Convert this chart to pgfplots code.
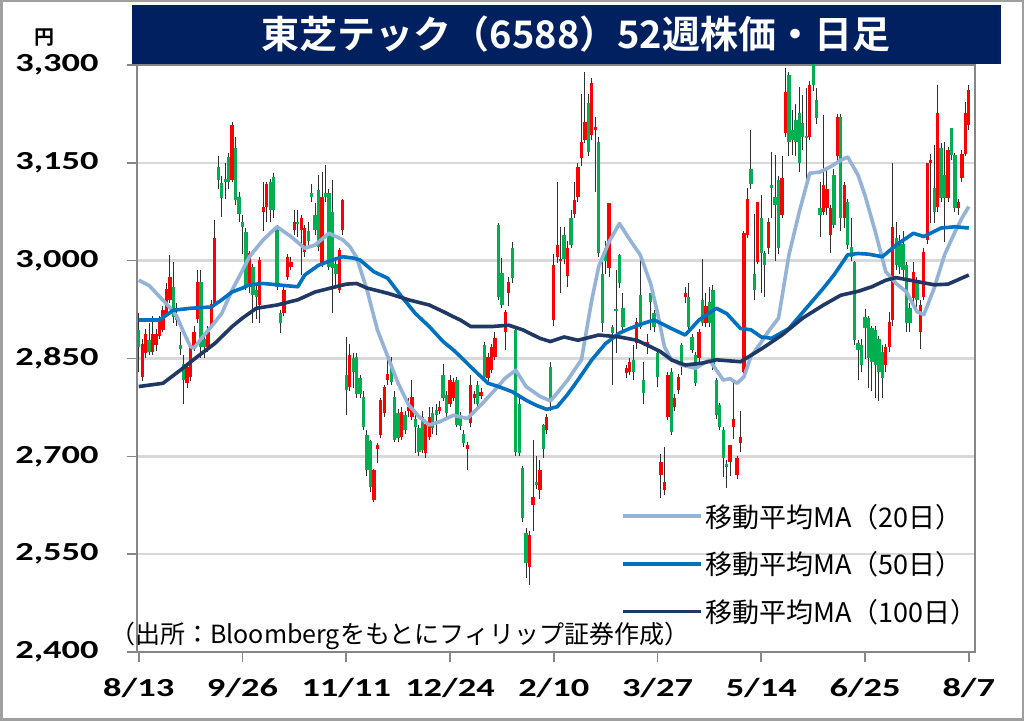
\documentclass[border=0pt]{standalone}
\usepackage{fontspec}
\usepackage{graphicx}
\usepackage{pgfplots}
\pgfplotsset{compat=1.18}
\usepackage{pgfplotstable}
\setmainfont{Carlito}
\newfontfamily\jp{Noto Sans CJK JP}[BoldFont={Noto Sans CJK JP Bold}]
\definecolor{navy}{HTML}{002060}
\definecolor{upred}{HTML}{FF0000}
\definecolor{dngreen}{HTML}{00B050}
\definecolor{maA}{HTML}{95B3D7}
\definecolor{maB}{HTML}{0070C0}
\definecolor{maC}{HTML}{1F3864}
\definecolor{gridc}{HTML}{D9D9D9}
\definecolor{axisc}{HTML}{868686}
\definecolor{wickc}{HTML}{303030}
\newcommand\tl[1]{\scalebox{1.4}[1]{#1}}
\pgfplotstableread{
i o h l c
0 2893 2920 2830 2868
1 2822 2880 2815 2873
2 2858 2895 2850 2888
3 2878 2905 2855 2860
4 2860 2915 2855 2888
5 2870 2895 2862 2888
6 2885 2915 2880 2910
7 2893 2930 2890 2924
8 2919 2965 2915 2957
9 2940 3008 2935 2975
10 2960 2998 2905 2914
11 2917 2935 2900 2909
12 2870 2890 2855 2865
13 2842 2855 2781 2817
14 2812 2845 2805 2837
15 2822 2872 2815 2868
16 2868 2900 2862 2891
17 2911 2985 2905 2968
18 2968 2985 2850 2868
19 2880 2890 2850 2868
20 2868 2900 2860 2890
21 2900 2940 2895 2934
22 2934 3062 2930 3034
23 3144 3160 3110 3124
24 3119 3130 3067 3096
25 3125 3150 3095 3121
26 3159 3165 3110 3121
27 3124 3212 3120 3208
28 3172 3190 3085 3093
29 3098 3105 3060 3072
30 3060 3070 3010 3052
31 3044 3050 2955 2963
32 2960 3015 2950 3011
33 2990 2995 2904 2947
34 2955 2962 2910 2945
35 2932 3005 2904 3001
36 3075 3121 3045 3083
37 3083 3121 3060 3118
38 3121 3125 3060 3078
39 3129 3135 3065 3078
40 3050 3055 2955 2960
41 2919 2925 2889 2904
42 2919 2960 2915 2955
43 2975 3010 2970 3006
44 2990 3005 2985 2998
45 3047 3078 3040 3060
46 3060 3078 3037 3057
47 3047 3070 2978 3065
48 3014 3055 3005 3050
49 3045 3060 3020 3030
50 3103 3118 3090 3098
51 3070 3088 3040 3047
52 3108 3131 3015 3021
53 2996 3136 2990 3098
54 3103 3147 3090 3098
55 3103 3110 2985 2991
56 3075 3124 2919 2988
57 2995 3005 2960 2980
58 2955 3020 2950 3016
59 3047 3095 3040 3093
60 2825 2883 2763 2802
61 2807 2872 2800 2855
62 2850 2858 2805 2830
63 2852 2858 2790 2796
64 2820 2825 2790 2796
65 2791 2800 2740 2745
66 2733 2740 2670 2679
67 2723 2725 2645 2653
68 2633 2680 2630 2679
69 2712 2720 2690 2717
70 2733 2790 2728 2786
71 2766 2810 2760 2807
72 2817 2852 2810 2827
73 2840 2852 2810 2814
74 2791 2800 2722 2725
75 2766 2772 2722 2728
76 2730 2775 2725 2768
77 2763 2770 2735 2740
78 2770 2790 2760 2776
79 2761 2817 2755 2791
80 2758 2765 2705 2745
81 2743 2748 2700 2707
82 2760 2770 2705 2710
83 2705 2755 2697 2750
84 2730 2776 2725 2761
85 2766 2775 2735 2743
86 2771 2781 2733 2763
87 2770 2785 2765 2776
88 2825 2842 2785 2789
89 2794 2800 2760 2766
90 2781 2825 2775 2817
91 2790 2820 2785 2814
92 2817 2822 2745 2748
93 2761 2768 2740 2746
94 2735 2740 2715 2720
95 2712 2722 2679 2717
96 2751 2825 2745 2809
97 2790 2800 2780 2796
98 2809 2815 2775 2781
99 2793 2805 2788 2798
100 2871 2875 2818 2822
101 2820 2858 2815 2853
102 2832 2872 2828 2868
103 2853 2891 2848 2881
104 3055 3058 2940 2945
105 2981 3004 2928 2932
106 2891 2925 2863 2922
107 2950 2975 2930 2968
108 3019 3029 2965 2973
109 2894 2897 2700 2707
110 2781 2790 2700 2705
111 2682 2685 2600 2605
112 2582 2590 2513 2536
113 2531 2585 2503 2580
114 2625 2725 2585 2638
115 2661 2700 2650 2656
116 2648 2694 2635 2679
117 2748 2750 2697 2712
118 2740 2765 2735 2760
119 2837 2845 2770 2784
120 2909 3010 2900 2993
121 3006 3121 2996 3024
122 3000 3052 2950 3003
123 3039 3052 2995 3003
124 2976 3030 2960 3019
125 3065 3078 3020 3024
126 3072 3121 3065 3093
127 3098 3150 3090 3144
128 3157 3256 3145 3182
129 3185 3290 3180 3213
130 3241 3256 3160 3167
131 3193 3280 3185 3272
132 3200 3220 3105 3205
133 3182 3190 3005 3011
134 2980 3003 2891 2904
135 3020 3030 2980 3000
136 2988 3088 2975 3088
137 2899 2901 2810 2889
138 2925 2986 2858 2924
139 3009 3010 2958 2965
140 2927 2950 2890 2899
141 2827 2840 2820 2835
142 2830 2850 2825 2845
143 2848 2870 2817 2830
144 2873 2912 2865 2906
145 2947 3003 2895 2899
146 2817 2845 2781 2797
147 2873 2888 2857 2876
148 2950 2950 2893 2937
149 2919 2925 2890 2899
150 2858 2863 2807 2822
151 2671 2704 2636 2692
152 2648 2715 2640 2661
153 2761 2830 2755 2824
154 2830 2835 2732 2738
155 2776 2795 2770 2789
156 2801 2827 2795 2822
157 2871 2873 2825 2845
158 2945 2960 2935 2950
159 2945 2965 2895 2899
160 2883 2888 2858 2863
161 2855 2860 2808 2812
162 2850 2895 2845 2891
163 2940 3003 2900 2904
164 2904 2950 2898 2930
165 2937 2960 2898 2904
166 2955 2963 2832 2838
167 2817 2820 2758 2763
168 2779 2782 2740 2745
169 2740 2745 2668 2697
170 2689 2695 2651 2684
171 2692 2717 2670 2717
172 2745 2814 2727 2758
173 2671 2700 2666 2697
174 2720 2769 2707 2730
175 2830 3045 2825 3042
176 3039 3111 3035 3095
177 3141 3200 3110 3118
178 2980 3072 2940 2955
179 2998 3090 2995 3090
180 3065 3101 2950 3011
181 3011 3015 2945 2993
182 3019 3065 3010 3060
183 3116 3167 3065 3111
184 3098 3162 3000 3085
185 3124 3130 3010 3019
186 3070 3160 3065 3126
187 3195 3295 3190 3259
188 3285 3290 3160 3182
189 3200 3231 3162 3185
190 3215 3240 3160 3182
191 3226 3267 3136 3149
192 3211 3254 3170 3190
193 3190 3264 3116 3188
194 3190 3275 3185 3269
195 3310 3320 3260 3269
196 3246 3264 3210 3218
197 3080 3121 3037 3070
198 3075 3223 3070 3116
199 3080 3140 3070 3110
200 3039 3085 3011 3080
201 3131 3140 3050 3054
202 3160 3225 3150 3221
203 3221 3225 3045 3065
204 3065 3120 3050 3116
205 3090 3095 3018 3024
206 3021 3065 3000 3006
207 2998 3000 2870 2878
208 2873 2878 2817 2863
209 2870 2880 2830 2840
210 2914 2926 2850 2896
211 2912 2915 2805 2850
212 2896 2900 2800 2845
213 2894 2900 2790 2840
214 2880 2885 2785 2830
215 2860 2870 2790 2820
216 2840 2872 2830 2868
217 2868 2922 2860 2906
218 2909 3149 2900 3052
219 3034 3060 2985 2993
220 3030 3040 2980 2990
221 3026 3045 2975 2985
222 2993 2998 2890 2904
223 2927 2935 2890 2904
224 2942 2998 2935 2983
225 2968 2975 2920 2940
226 2891 2940 2865 2932
227 2945 3020 2940 3014
228 3032 3150 3025 3149
229 3149 3164 3057 3154
230 3111 3177 3057 3075
231 3083 3269 3075 3226
232 3172 3180 3090 3096
233 3131 3182 3029 3096
234 3096 3175 3090 3170
235 3203 3203 3155 3162
236 3162 3165 3075 3080
237 3080 3095 3070 3090
238 3126 3170 3120 3164
239 3164 3244 3160 3226
240 3208 3269 3200 3262
}\candles
\begin{document}
\begin{tikzpicture}
\path[use as bounding box] (0bp,0bp) rectangle (1024bp,721bp);
\fill[white] (0bp,0bp) rectangle (1024bp,721bp);
\draw[color=gray!75, line width=2bp] (1.5bp,1.5bp) rectangle (1022.5bp,719.5bp);
\begin{axis}[
  at={(137bp,69bp)}, anchor=south west, scale only axis,
  width=838bp, height=587bp,
  xmin=-0.5, xmax=241.8, ymin=2400, ymax=3300,
  axis line style={axisc, line width=2bp},
  tick style={axisc, line width=1.6bp},
  major tick length=10bp, tick align=outside,
  xtick pos=lower, ytick pos=left,
  xtick={0,30,...,240},
  xticklabels={{\tl{8/13}},{\tl{9/26}},{\tl{11/11}},{\tl{12/24}},{\tl{2/10}},{\tl{3/27}},{\tl{5/14}},{\tl{6/25}},{\tl{8/7}}},
  ytick={2400,2550,...,3300},
  yticklabels={{\tl{2,400}},{\tl{2,550}},{\tl{2,700}},{\tl{2,850}},{\tl{3,000}},{\tl{3,150}},{\tl{3,300}}},
  ticklabel style={font=\fontsize{26bp}{30bp}\selectfont\bfseries},
  yticklabel style={anchor=east, xshift=-25bp},
  xticklabel style={anchor=north, yshift=-13bp},
  ymajorgrids, major grid style={gridc, line width=2.5bp},
  legend style={draw=none, fill=none, at={(0.578,0.256)}, anchor=north west,
    font=\jp\fontsize{27bp}{31bp}\selectfont, row sep=19bp, inner sep=0pt,
    cells={anchor=west}},
  legend image code/.code={\draw[#1] (0bp,0bp) -- (78bp,0bp);},
]
\addplot[draw=none, mark=none, forget plot,
  error bars/.cd, y dir=both, y explicit, error mark=none,
  error bar style={draw=wickc, line width=1bp}]
  table[x=i, y expr={(\thisrow{h}+\thisrow{l})/2}, y error expr={(\thisrow{h}-\thisrow{l})/2}] {\candles};
\addplot[draw=none, mark=none, forget plot,
  restrict expr to domain={\thisrow{c}-\thisrow{o}}{0:2000},
  error bars/.cd, y dir=both, y explicit, error mark=none,
  error bar style={draw=upred, line width=3.3bp}]
  table[x=i, y expr={(\thisrow{o}+\thisrow{c})/2}, y error expr={max(abs(\thisrow{c}-\thisrow{o})/2,1.5)}] {\candles};
\addplot[draw=none, mark=none, forget plot,
  restrict expr to domain={\thisrow{c}-\thisrow{o}}{-2000:-0.5},
  error bars/.cd, y dir=both, y explicit, error mark=none,
  error bar style={draw=dngreen, line width=3.3bp}]
  table[x=i, y expr={(\thisrow{o}+\thisrow{c})/2}, y error expr={max(abs(\thisrow{c}-\thisrow{o})/2,1.5)}] {\candles};
\addplot[maA, line width=3.6bp, line join=round] coordinates {
(0,2970)(3,2962)(6,2945)(9,2928)(11,2915)(13,2890)(15,2868)(16,2866)(18,2880)(21,2899)(24,2919)(27,2955)(30,2985)(32,3006)(36,3032)(40,3052)(44,3037)(48,3019)(51,3024)(55,3042)(59,3032)(61,3022)(63,3005)(66,2955)(69,2894)(72,2853)(75,2812)(78,2779)(81,2761)(84,2748)(87,2753)(91,2763)(95,2758)(99,2779)(103,2802)(106,2820)(109,2832)(112,2807)(116,2792)(119,2785)(121,2797)(124,2817)(128,2848)(131,2940)(133,2991)(136,3029)(139,3057)(142,3032)(145,3009)(148,2965)(150,2920)(152,2868)(154,2848)(157,2840)(161,2835)(165,2848)(169,2817)(171,2819)(173,2812)(175,2822)(177,2853)(180,2875)(182,2891)(185,2912)(188,3009)(191,3075)(194,3134)(197,3136)(200,3144)(203,3154)(205,3159)(208,3131)(210,3100)(213,3044)(216,2983)(219,2965)(222,2952)(225,2922)(227,2917)(230,2958)(233,3009)(236,3044)(238,3065)(240,3083)};
\addlegendentry{移動平均MA（20日）}
\addplot[maB, line width=3.6bp, line join=round] coordinates {
(0,2909)(6,2909)(10,2924)(15,2927)(21,2929)(24,2940)(27,2952)(30,2958)(32,2963)(36,2965)(40,2963)(46,2960)(48,2978)(52,2993)(56,3001)(59,3006)(62,3004)(64,3001)(68,2983)(72,2973)(76,2945)(80,2919)(84,2899)(88,2876)(91,2863)(93,2853)(97,2832)(101,2812)(104,2807)(108,2799)(112,2786)(115,2778)(118,2772)(121,2776)(124,2795)(127,2817)(131,2848)(135,2873)(139,2889)(142,2896)(146,2904)(149,2909)(151,2904)(154,2896)(158,2886)(162,2909)(167,2927)(170,2919)(174,2896)(177,2894)(180,2883)(183,2881)(188,2896)(193,2927)(198,2958)(201,2978)(205,3009)(208,3011)(211,3010)(215,3006)(219,3024)(224,3042)(227,3037)(232,3050)(236,3052)(240,3050)};
\addlegendentry{移動平均MA（50日）}
\addplot[maC, line width=3.6bp, line join=round] coordinates {
(0,2807)(7,2812)(12,2832)(17,2853)(22,2873)(27,2899)(30,2912)(34,2927)(40,2932)(46,2940)(51,2952)(57,2960)(60,2964)(63,2965)(66,2958)(72,2950)(78,2940)(84,2932)(88,2922)(91,2914)(93,2909)(96,2899)(102,2899)(107,2901)(111,2894)(116,2881)(119,2876)(123,2883)(127,2878)(133,2886)(139,2883)(144,2878)(148,2868)(151,2860)(154,2848)(158,2840)(163,2843)(167,2848)(174,2845)(178,2858)(181,2868)(186,2886)(192,2912)(198,2932)(203,2947)(208,2953)(212,2960)(216,2970)(219,2974)(225,2968)(230,2963)(234,2964)(240,2978)};
\addlegendentry{移動平均MA（100日）}
\end{axis}
\fill[navy] (132bp,657bp) rectangle (1001bp,716bp);
\node[text=white, font=\jp\bfseries\fontsize{38bp}{44bp}\selectfont] at (576bp,687bp) {東芝テック（6588）52週株価・日足};
\node[font=\jp\bfseries\fontsize{20bp}{24bp}\selectfont] at (44bp,683bp) {円};
\node[anchor=west, inner sep=0pt, font=\jp\fontsize{25bp}{29bp}\selectfont] at (110bp,85bp) {（出所：Bloombergをもとにフィリップ証券作成）};
\end{tikzpicture}
\end{document}
